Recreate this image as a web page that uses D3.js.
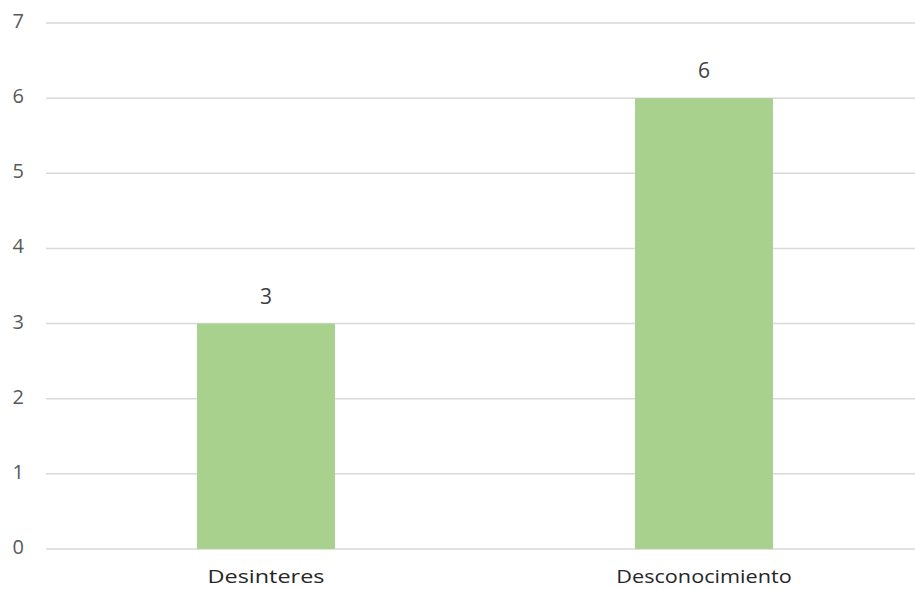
<!DOCTYPE html>
<html><head><meta charset="utf-8">
<script src="https://cdn.jsdelivr.net/npm/d3@7/dist/d3.min.js"></script>
<style>body{margin:0;background:#fff;}text{font-family:"Open Sans","Liberation Sans",sans-serif;}</style>
</head><body><svg id="c" width="915" height="589"></svg>
<script>
const categories = ["Desinteres", "Desconocimiento"];
const values = [3, 6];
const yTicks = [0, 1, 2, 3, 4, 5, 6, 7];

const svg = d3.select("#c");
const x = d3.scaleBand().domain(categories).range([47, 923]).padding(0);
const y = d3.scaleLinear().domain([0, 7]).range([549, 23]);
const barW = x.bandwidth() * 0.315;

svg.append("g").selectAll("line").data(yTicks).join("line")
  .attr("x1", 46).attr("x2", 915)
  .attr("y1", d => y(d)).attr("y2", d => y(d))
  .attr("stroke", "#d9d9d9").attr("stroke-width", 1.5);

svg.append("g").selectAll("text").data(yTicks).join("text")
  .attr("x", 24).attr("y", d => y(d) + 5)
  .attr("text-anchor", "end").attr("font-size", 20).attr("fill", "#595959")
  .text(d => d);

svg.append("g").selectAll("rect").data(values).join("rect")
  .attr("x", (d, i) => x(categories[i]) + x.bandwidth() / 2 - barW / 2)
  .attr("width", barW)
  .attr("y", d => y(d)).attr("height", d => y(0) - y(d))
  .attr("fill", "#a9d18e");

svg.append("g").selectAll("text").data(values).join("text")
  .attr("x", (d, i) => x(categories[i]) + x.bandwidth() / 2)
  .attr("y", d => y(d) - 20)
  .attr("text-anchor", "middle").attr("font-size", 21).attr("fill", "#404040").text(d => d);

svg.append("g").selectAll("text").data(categories).join("text")
  .attr("x", d => x(d) + x.bandwidth() / 2)
  .attr("y", 583)
  .attr("text-anchor", "middle").attr("font-size", 19).attr("fill", "#262626")
  .attr("textLength", d => d.length * 11.7).attr("lengthAdjust", "spacingAndGlyphs")
  .text(d => d);
</script></body></html>
